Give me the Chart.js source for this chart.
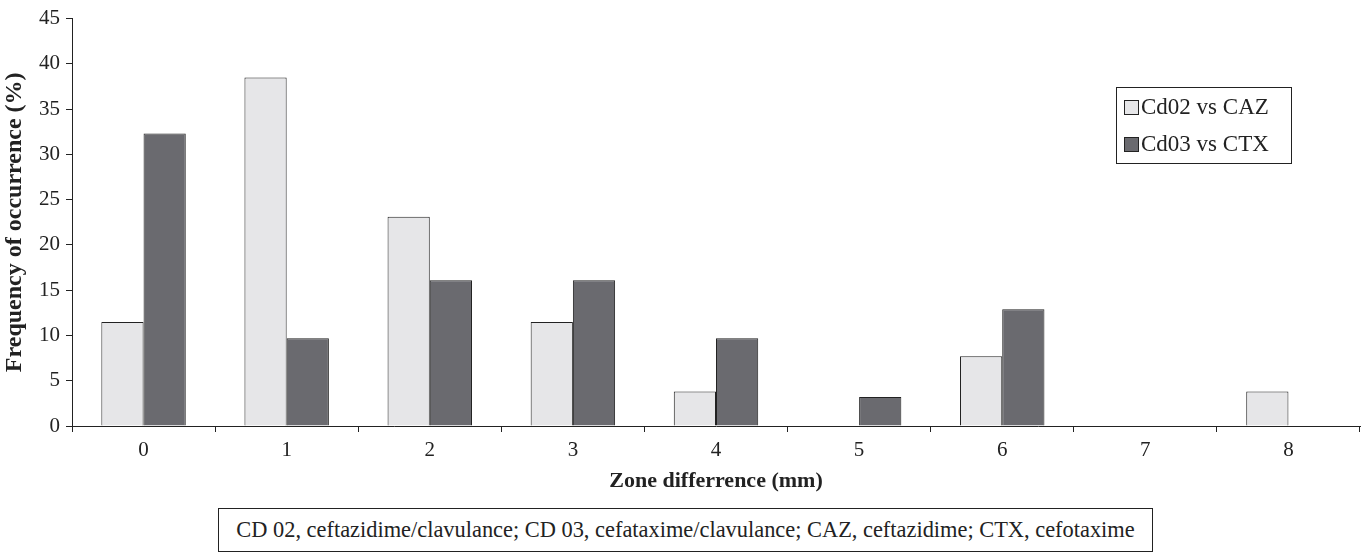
<!DOCTYPE html>
<html>
<head>
<meta charset="utf-8">
<script src="https://cdn.jsdelivr.net/npm/chart.js@4/dist/chart.umd.min.js"></script>
<style>
  body { margin: 0; background: #fff; }
  #wrap { position: relative; width: 1368px; height: 555px; font-family: "Liberation Serif", "Times New Roman", serif; }
  #myChart { position: absolute; left: 0; top: 0; }
  #leyenda { position: absolute; left: 1116px; top: 87px; width: 176px; height: 77px; border: 1px solid #222; box-sizing: border-box; font-size: 23px; color: #222; }
  #leyenda div { position: absolute; left: 7px; white-space: nowrap; line-height: 26px; }
  #leyenda span { display: inline-block; width: 15px; height: 15px; border: 1px solid #222; margin-right: 2px; vertical-align: -1px; box-sizing: border-box; }
  #nota { position: absolute; left: 218px; top: 508px; width: 935px; height: 44px; border: 1px solid #222; box-sizing: border-box; font-size: 22.4px; color: #222; text-align: center; line-height: 42px; white-space: nowrap; }
</style>
</head>
<body>
<div id="wrap">
  <canvas id="myChart" width="1368" height="500"></canvas>
  <div id="leyenda"></div>
  <div id="nota">CD 02, ceftazidime/clavulance; CD 03, cefataxime/clavulance; CAZ, ceftazidime; CTX, cefotaxime</div>
</div>
<script>
var categorias = ['0', '1', '2', '3', '4', '5', '6', '7', '8'];
var cd02 = [11.5, 38.5, 23.1, 11.5, 3.8, 0, 7.7, 0, 3.8];
var cd03 = [32.3, 9.7, 16.1, 16.1, 9.7, 3.2, 12.9, 0, 0];
var nombres = ['Cd02 vs CAZ', 'Cd03 vs CTX'];
var colores = ['#e6e6e8', '#6a6a6f'];

// leyenda a mano, la del chart no se puede poner dentro del area
var leyenda = document.getElementById('leyenda');
for (var i = 0; i < nombres.length; i++) {
  var fila = document.createElement('div');
  fila.style.top = (i == 0 ? 6 : 43) + 'px';
  fila.innerHTML = '<span style="background:' + colores[i] + '"></span>' + nombres[i];
  leyenda.appendChild(fila);
}

var ctx = document.getElementById('myChart').getContext('2d');
var chart = new Chart(ctx, {
  type: 'bar',
  data: {
    labels: categorias,
    datasets: [{
      label: nombres[0],
      data: cd02,
      backgroundColor: colores[0],
      borderColor: '#222',
      borderWidth: 1
    }, {
      label: nombres[1],
      data: cd03,
      backgroundColor: colores[1],
      borderColor: '#222',
      borderWidth: 1
    }]
  },
  options: {
    responsive: false,
    animation: false,
    datasets: { bar: { categoryPercentage: 0.59, barPercentage: 1 } },
    layout: { padding: { left: 0, top: 18, right: 8, bottom: 0 } },
    plugins: { legend: { display: false }, tooltip: { enabled: false } },
    scales: {
      x: {
        afterFit: function (s) { s.height = 74; },
        grid: { offset: true, drawOnChartArea: false, tickLength: 6, color: '#222' },
        border: { color: '#222' },
        ticks: { color: '#222', font: { family: 'Liberation Serif', size: 21 }, padding: 6 },
        title: { display: true, text: 'Zone differrence (mm)', color: '#222', font: { family: 'Liberation Serif', size: 22, weight: 'bold' }, padding: { top: 2, bottom: 5 } }
      },
      y: {
        min: 0,
        max: 45,
        afterFit: function (s) { s.width = 72; },
        grid: { drawOnChartArea: false, tickLength: 6, color: '#222' },
        border: { color: '#222' },
        ticks: { stepSize: 5, color: '#222', font: { family: 'Liberation Serif', size: 21 }, padding: 6 },
        title: { display: true, text: 'Frequency of occurrence (%)', color: '#222', font: { family: 'Liberation Serif', size: 24, weight: 'bold' }, padding: { top: 0, bottom: 1 } }
      }
    }
  }
});
</script>
</body>
</html>
